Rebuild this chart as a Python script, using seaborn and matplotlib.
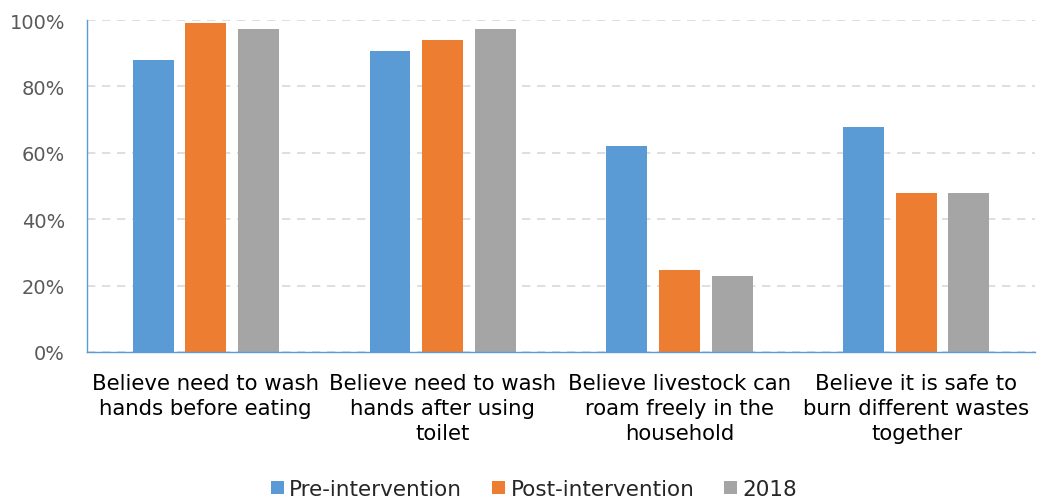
import seaborn as sns
import matplotlib.pyplot as plt
import pandas as pd
from matplotlib.ticker import PercentFormatter

categories = [
    "Believe need to wash\nhands before eating",
    "Believe need to wash\nhands after using\ntoilet",
    "Believe livestock can\nroam freely in the\nhousehold",
    "Believe it is safe to\nburn different wastes\ntogether",
]
series = ["Pre-intervention", "Post-intervention", "2018"]
pre_values = [88, 90.7, 62, 67.8]
post_values = [99, 94, 24.7, 48]
y2018_values = [97.3, 97.3, 22.9, 47.9]
colors = ["#5B9BD5", "#ED7D31", "#A5A5A5"]

rows = []
for name, vals in zip(series, [pre_values, post_values, y2018_values]):
    for cat, v in zip(categories, vals):
        rows.append({"category": cat, "series": name, "value": v})
df = pd.DataFrame(rows)

sns.set_style("white")
plt.rcParams["font.family"] = ["DejaVu Sans"]

fig, ax = plt.subplots(figsize=(10.37, 5.02), dpi=100)
fig.subplots_adjust(left=0.084, right=0.998, top=0.958, bottom=0.297)

sns.barplot(data=df, x="category", y="value", hue="series", palette=colors,
            width=0.665, gap=0.22, saturation=1, linewidth=0, ax=ax, legend=True)

ax.set_ylim(0, 100)
ax.set_yticks([0, 20, 40, 60, 80, 100])
ax.yaxis.set_major_formatter(PercentFormatter(decimals=0))
ax.grid(axis="y", color="#D9D9D9", linestyle=(0, (5, 4)), linewidth=1.2)
ax.set_axisbelow(True)
ax.set_xlabel("")
ax.set_ylabel("")
for side in ["top", "right"]:
    ax.spines[side].set_visible(False)
for side in ["left", "bottom"]:
    ax.spines[side].set_color("#5B9BD5")
    ax.spines[side].set_linewidth(1)
ax.tick_params(axis="y", labelsize=14, labelcolor="#595959", length=0, pad=16)
ax.tick_params(axis="x", labelsize=15.3, labelcolor="black", length=0, pad=15)
for lbl in ax.get_xticklabels():
    lbl.set_linespacing(1.32)

handles, labels = ax.get_legend_handles_labels()
ax.get_legend().remove()
fig.legend(handles, labels, loc="center", bbox_to_anchor=(0.515, 0.024),
           ncol=3, frameon=False, fontsize=15.5, handlelength=0.6, handleheight=0.6,
           handletextpad=0.25, columnspacing=1.4)

plt.savefig("out.png", dpi=100)
plt.close()
